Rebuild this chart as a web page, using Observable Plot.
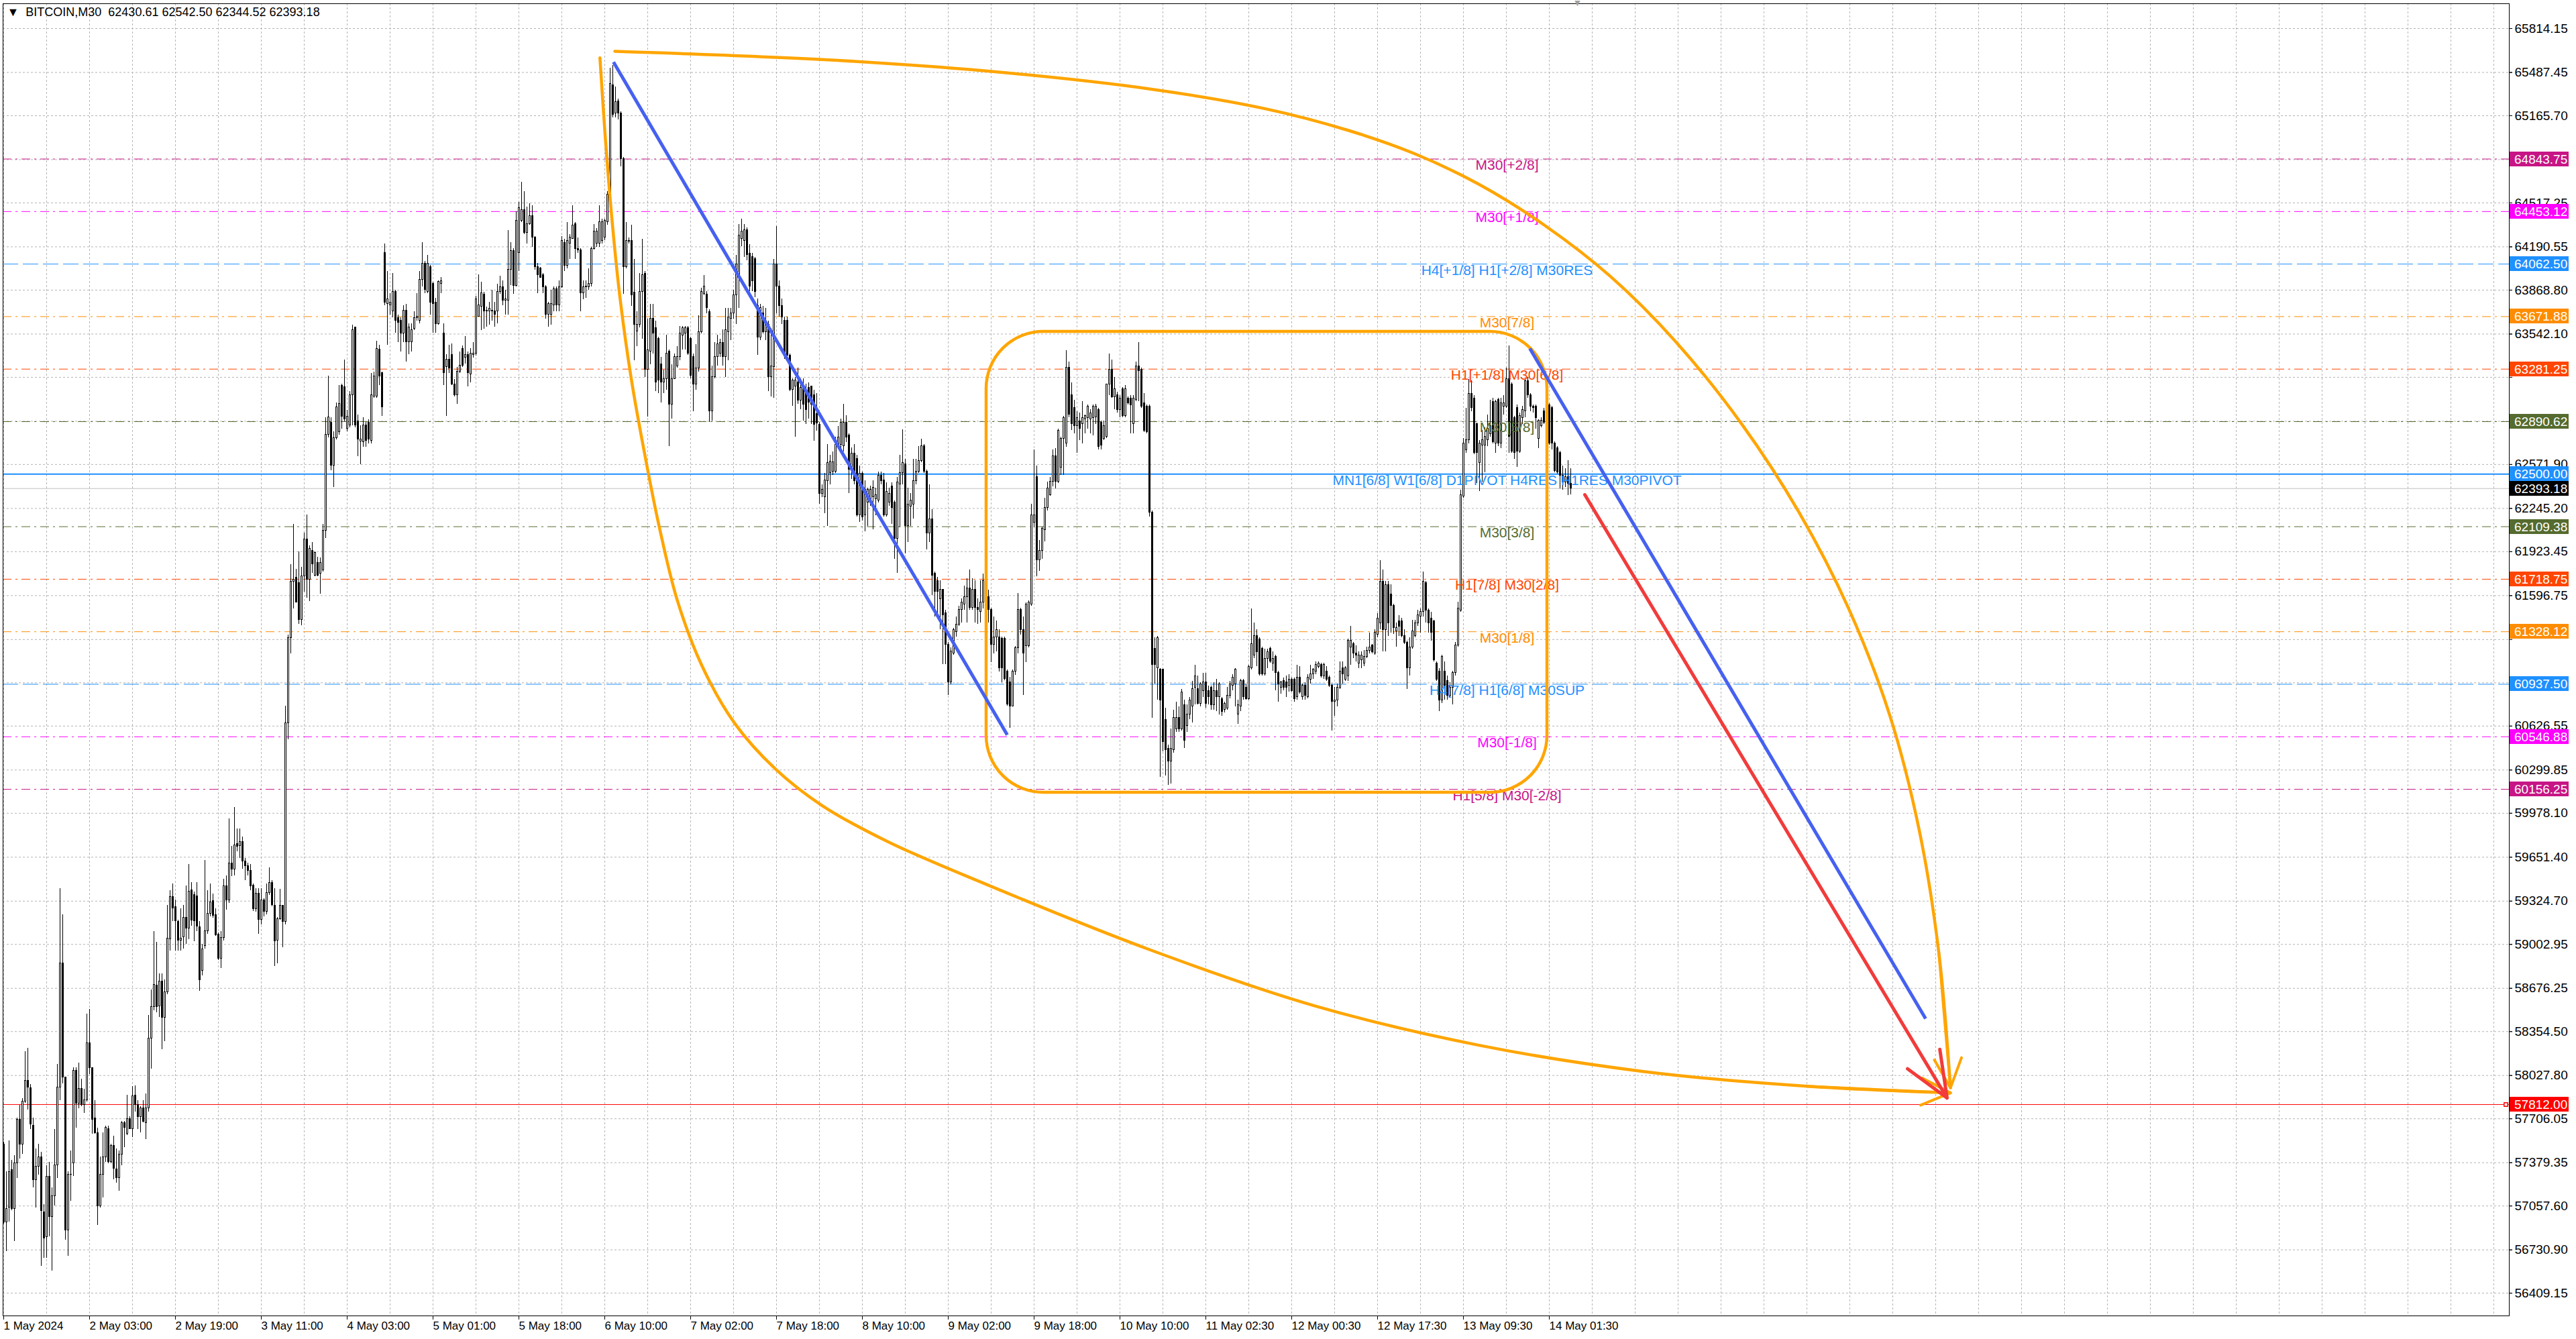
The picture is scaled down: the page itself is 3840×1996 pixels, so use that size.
<!DOCTYPE html>
<html>
<head>
<meta charset="utf-8">
<script src="https://cdn.jsdelivr.net/npm/d3@7"></script>
<script src="https://cdn.jsdelivr.net/npm/@observablehq/plot@0.6"></script>
<style>
  html, body { margin: 0; padding: 0; background: #ffffff; }
  #chart svg { display: block; }
</style>
</head>
<body>
<div id="chart"></div>
<script>
// ---------------- DATA ----------------
const symbolName = "BITCOIN,M30";
const lastOHLC = [62430.61, 62542.50, 62344.52, 62393.18];

// M30 candles [open, high, low, close], one per bar, left to right
const candles = [
[57517,57530,56925,56937],[56937,57312,56720,57034],[57046,57542,56937,57312],[57324,57397,57022,57034],[57034,57433,56792,57373],
[57373,57711,57264,57699],[57699,57808,57409,57517],[57517,57856,57445,57832],[57832,58207,57820,57989],[57989,58231,57771,57941],
[57936,57960,57626,57663],[57655,57711,57191,57252],[57252,57481,57046,57348],[57348,57517,57288,57421],[57421,57457,56611,57022],
[57010,57070,56671,56816],[56829,57360,56671,57276],[57276,57385,56829,56974],[56974,57191,56575,57131],[57131,57626,57058,57360],
[57360,58110,57264,57941],[57941,59416,57844,58860],[58860,59222,57965,58013],[58013,58013,56804,56877],[56877,57312,56683,57288],
[57288,57469,57094,57290],[57373,58086,57276,58062],[58062,58086,57638,57820],[57820,58122,57784,57929],[57929,58001,57796,57808],
[57808,57929,57747,57844],[57844,58485,57832,58267],[58267,58521,58038,58086],[58086,58086,57590,57699],[57711,57844,57590,57602],
[57602,57638,56913,57058],[57058,57421,57046,57288],[57288,57602,57119,57421],[57421,57651,57385,57638],[57631,57651,57373,57385],
[57385,57517,57373,57505],[57505,57578,57252,57336],[57331,57481,57227,57264],[57264,57469,57167,57438],[57438,57687,57360,57675],
[57675,57687,57493,57638],[57597,57880,57583,57704],[57704,57723,57626,57631],[57631,57946,57566,57875],[57880,57953,57759,57808],
[57808,57844,57626,57718],[57718,57796,57602,57784],[57784,57844,57675,57687],[57675,57892,57554,57784],[57784,58473,57759,58303],
[58303,58666,58074,58540],[58540,59101,58509,58702],[58695,59017,58497,58540],[58545,58787,58461,58727],[58727,58787,58219,58456],
[58456,58739,58279,58649],[58649,59295,58630,59048],[59041,59404,58956,59355],[59355,59452,59174,59271],[59283,59331,58956,59174],
[59169,59186,58956,59034],[59034,59271,58956,59048],[59058,59295,58968,59203],[59203,59440,59005,59121],[59121,59597,59041,59396],
[59404,59464,59138,59179],[59372,59392,59024,59174],[59362,59464,59101,59138],[59130,59174,58654,58739],[58806,59005,58768,58968],
[58992,59628,58968,59101],[59101,59404,59077,59229],[59229,59452,59210,59314],[59328,59379,59198,59217],[59222,59271,59065,59072],
[59077,59089,58884,58896],[58896,59101,58823,59053],[59053,59488,59029,59435],[59435,59512,59259,59331],[59331,59936,59307,59604],
[59604,59735,59508,59561],[59561,60020,59512,59742],[59749,59863,59694,59730],[59735,59863,59645,59766],[59766,59802,59561,59621],
[59621,59645,59476,59585],[59585,59609,59512,59549],[59549,59597,59404,59435],[59440,59452,59251,59266],[59266,59416,59246,59379],
[59379,59416,59077,59186],[59186,59416,59150,59331],[59331,59343,59210,59246],[59246,59452,59222,59387],[59387,59573,59367,59459],
[59459,59476,59283,59295],[59290,59416,58840,59029],[59034,59203,58860,59193],[59193,59411,59186,59290],[59290,59295,58980,59169],
[59169,60777,59150,60648],[60648,61304,60525,61281],[61281,61830,61166,61702],[61702,62128,61500,61716],[61730,61793,61546,61546],
[61693,61922,61382,61418],[61418,61807,61372,61739],[61739,62060,61624,62014],[62014,62197,61578,61716],[61716,61968,61555,61945],
[61931,61991,61762,61830],[61748,61922,61739,61913],[61839,61885,61739,61748],[61762,61876,61610,61839],[61784,62128,61775,62082],
[62082,62921,62023,62792],[62792,63228,62770,62921],[62884,62921,62527,62563],[62563,62815,62403,62770],[62770,63031,62756,62999],
[62815,63159,62792,63021],[63159,63168,62838,62930],[63150,63351,62893,62907],[62838,62976,62815,62930],[62861,63113,62847,63090],
[63090,63608,62861,63571],[63594,63594,62847,62861],[62893,62939,62632,62756],[62742,62861,62573,62760],[62737,62921,62701,62861],
[62861,62884,62701,62747],[62884,62907,62724,62756],[62747,63251,62724,63090],[63076,63260,63067,63228],[63076,63489,63067,63434],
[63425,63457,63159,63228],[63251,63260,62930,62999],[64144,64213,63755,63778],[63764,64007,63457,63800],[63755,63846,63686,63778],
[63709,63993,63663,63855],[63855,63869,63548,63640],[63663,63686,63480,63626],[63640,63663,63411,63548],[63548,63755,63480,63718],
[63718,63764,63334,63480],[63480,63617,63388,63594],[63480,63617,63411,63571],[63580,63709,63571,63663],[63663,63846,63640,63672],
[63640,64007,63617,63947],[63947,64222,63892,64066],[64066,64085,63846,63869],[63855,64130,63846,64066],[64039,64053,63686,63778],
[63915,63929,63548,63764],[63778,63810,63548,63617],[63617,63938,63608,63929],[63915,63961,63846,63938],[63548,63617,63159,63251],
[63296,63388,62930,63351],[63351,63457,63251,63287],[63388,63471,63159,63168],[63168,63205,63076,63090],[63090,63297,63021,63260],
[63260,63411,63251,63306],[63434,63452,63296,63306],[63365,63525,63320,63388],[63388,63411,63150,63251],[63242,63434,63182,63397],
[63388,63480,63365,63397],[63397,63823,63379,63800],[63672,63983,63672,63755],[63745,63929,63571,63846],[63837,63855,63580,63709],
[63709,63745,63594,63718],[63709,63778,63608,63732],[63709,63869,63640,63718],[63709,63778,63594,63686],[63709,63915,63617,63855],
[63855,63974,63837,63892],[63892,63938,63755,63791],[63791,63869,63686,63800],[63791,64313,63686,64020],[64020,64222,63901,64158],
[64158,64176,63837,63901],[63901,64451,63892,64387],[64144,64524,64007,64478],[64387,64671,64373,64464],[64464,64602,64281,64295],
[64295,64487,64213,64359],[64359,64510,64350,64419],[64419,64497,64190,64258],[64258,64267,64020,64039],[64039,64066,63846,63983],
[64029,64039,63961,63961],[63983,63993,63846,63892],[63892,63901,63654,63686],[63686,63778,63594,63764],[63686,63869,63608,63764],
[63755,63892,63709,63878],[63878,63892,63709,63755],[63755,63938,63709,63892],[63892,64267,63883,64236],[64222,64249,64007,64053],
[64053,64373,64029,64236],[64213,64281,64098,64258],[64249,64497,64249,64350],[64359,64373,64098,64176],[64176,64258,64144,64167],
[64167,64176,63709,63846],[63846,63938,63800,63892],[63892,63938,63810,63895],[63892,64029,63869,63915],[63915,64190,63892,64176],
[64176,64359,64167,64304],[64213,64327,64190,64304],[64213,64497,64190,64373],[64236,64396,64213,64373],[64258,64396,64236,64387],
[64373,64602,64350,64579],[64579,65518,64570,65404],[65395,65541,65152,65175],[65184,65381,65152,65266],[65275,65289,65138,65184],
[65184,65198,64785,64845],[64845,64854,63837,64039],[64039,64373,64029,64236],[64231,64258,64213,64236],[64236,64350,63749,63830],
[63850,64098,63343,63614],[63560,63709,63451,63614],[63614,63992,63587,63857],[63857,64249,63505,63979],[63992,64006,63222,63276],
[63276,63654,62924,63424],[63411,63762,63316,63654],[63654,63762,63397,63546],[63587,63641,63113,63181],[63505,63519,63100,63195],
[63316,63370,63032,63181],[63181,63276,63100,63208],[63208,63532,63127,63397],[63411,63424,62708,63019],[63019,63316,62911,63208],
[63208,63397,63208,63370],[63303,63451,63289,63370],[63370,63600,63343,63546],[63532,63600,63424,63587],[63546,63600,63424,63587],
[63587,63600,63384,63397],[63505,63519,63208,63230],[63370,63397,62965,63168],[63168,63465,63127,63289],[63289,63681,63262,63559],
[63559,63884,63546,63857],[63843,63979,63830,63897],[63835,63857,63695,63735],[63708,63722,62884,62970],[62970,63303,62897,63222],
[63222,63478,63208,63370],[63370,63532,63303,63465],[63397,63505,63370,63478],[63478,63573,63303,63370],[63370,63735,63222,63573],
[63559,63735,63343,63668],[63654,63735,63492,63695],[63695,63870,63654,63830],[63830,64128,63614,64060],[63965,64357,63735,64276],
[64249,64398,64195,64303],[64236,64357,64114,64317],[64317,64330,64087,64128],[64141,64209,63857,63897],[64114,64141,63857,63938],
[64101,64114,63816,63857],[63749,63803,63384,63519],[63519,63762,63492,63735],[63695,63749,63546,63559],[63559,63735,63492,63614],
[63614,63641,63113,63222],[63222,63586,63073,63303],[63295,64100,63067,64060],[64060,64344,63695,63897],[63897,63938,63668,63749],
[63749,63803,63614,63668],[63641,63668,63357,63397],[63641,63668,63370,63384],[63384,63397,63113,63127],[63127,63208,63005,63195],
[63154,63222,62775,63195],[63181,63289,63019,63046],[63046,63208,62978,63141],[63154,63208,62897,63019],[63113,63168,62870,62978],
[63141,63181,62911,63032],[63154,63154,62870,63019],[63086,63127,62748,62870],[62950,63100,62820,62880],[62870,62884,62275,62356],
[62356,62424,62329,62383],[62329,62505,62208,62456],[62451,62721,62113,62586],[62510,62640,62424,62592],[62518,62667,62491,62591],
[62518,62775,62505,62721],[62721,62857,62694,62775],[62721,62911,62681,62884],[62708,63019,62667,62884],[62884,62938,62735,62775],
[62789,62803,62356,62532],[62532,62694,62464,62654],[62654,62721,62424,62451],[62613,62640,62181,62194],[62194,62559,62140,62505],
[62505,62518,62154,62181],[62194,62451,62073,62383],[62289,62397,62113,62383],[62316,62410,62262,62383],[62329,62451,62086,62397],
[62316,62397,62194,62343],[62302,62518,62289,62491],[62491,62518,62424,62451],[62456,62505,62181,62194],[62194,62437,62181,62370],
[62289,62397,62262,62356],[62410,62437,62127,62248],[62289,62302,61870,62019],[62019,62478,61762,62437],[62424,62640,62100,62510],
[62510,62829,62424,62586],[62573,62613,61910,62113],[62113,62397,61992,62275],[62262,62356,62113,62302],[62275,62613,62167,62451],
[62451,62613,62424,62518],[62518,62708,62505,62600],[62600,62762,62586,62708],[62708,62721,62505,62518],[62518,62532,61937,62059],
[62059,62424,61992,62167],[62167,62235,61599,61748],[61762,61775,61437,61626],[61708,61735,61424,61626],[61572,61708,61342,61640],
[61640,61640,61086,61451],[61464,61491,61086,61234],[61234,61248,60856,60950],[60950,61207,60937,61180],[61166,61356,61153,61342],
[61329,61437,61288,61383],[61383,61518,61370,61491],[61491,61572,61396,61545],[61532,61667,61491,61586],[61586,61721,61396,61653],
[61653,61789,61491,61505],[61505,61721,61491,61640],[61640,61708,61396,61505],[61505,61572,61383,61491],[61478,61708,61396,61545],
[61545,61760,61500,61707],[61707,61775,61491,61586],[61586,61640,61396,61491],[61491,61505,61099,61234],[61234,61437,61166,61288],
[61288,61410,61180,61342],[61288,61342,61032,61059],[61275,61288,60950,61059],[61275,61288,60964,60977],[61032,61046,60775,60788],
[60950,60991,60612,60775],[60775,61046,60775,61032],[61032,61221,61005,61207],[61207,61613,61166,61491],[61491,61505,61302,61342],
[61342,61437,60856,61167],[61221,61545,61099,61532],[61221,61559,61207,61545],[61532,62275,61518,62194],[62140,62681,62100,62194],
[62480,62560,61740,61860],[61860,62010,61780,61929],[61929,62108,61869,62096],[62084,62322,62000,62251],[62251,62442,62227,62394],
[62346,62478,62335,62442],[62442,62681,62406,62633],[62633,62693,62394,62442],[62442,62836,62430,62824],[62549,62776,62490,62764],
[62764,62931,62490,62919],[62730,63420,62700,63290],[63290,63337,62919,62943],[63087,63182,62824,62872],[62991,63051,62800,62860],
[62860,62967,62657,62919],[62895,62955,62752,62836],[62872,63039,62728,62919],[62907,62943,62800,62931],[62919,63015,62836,63003],
[62907,62979,62800,62955],[62919,63015,62788,63003],[62924,63020,62872,63003],[62979,62991,62681,62704],[62883,62895,62681,62716],
[62764,62895,62752,62860],[62776,63170,62764,63170],[63170,63397,63087,63277],[63277,63349,63063,63075],[63075,63218,62979,63134],
[63087,63110,62955,62979],[62979,63087,62919,63063],[63134,63146,62919,62931],[62931,63158,62919,63134],[63063,63075,63015,63027],
[63063,63087,62800,63015],[62872,63087,62800,63063],[63051,63337,63039,63301],[63301,63480,63039,63265],[63277,63289,62991,63003],
[63027,63099,62812,62824],[63003,63015,62800,62812],[63003,63015,62180,62215],[62215,62227,60687,61081],[61201,61284,60938,61081],
[61057,61296,60818,61284],[61046,61057,60246,60818],[61046,61046,60437,60508],[60675,60759,60258,60449],[60461,60485,60186,60365],
[60365,60604,60198,60461],[60449,60747,60425,60687],[60604,60806,60580,60687],[60687,60771,60580,60604],[60604,60902,60592,60878],
[60783,60818,60461,60520],[60628,60783,60580,60711],[60711,60842,60675,60819],[60771,60962,60651,60902],[60914,61081,60783,60998],
[60902,60998,60783,60795],[60795,60950,60771,60938],[60890,61022,60842,60950],[60950,61022,60759,60795],[60890,60926,60783,60842],
[60914,60926,60747,60783],[60783,60950,60747,60890],[60890,60974,60735,60842],[60842,60950,60711,60938],[60830,60842,60699,60735],
[60747,60806,60723,60795],[60759,60914,60747,60854],[60854,60962,60830,60938],[60926,61010,60890,60986],[60938,61057,60771,61046],
[60711,60818,60639,60783],[60771,60974,60735,60962],[60962,60974,60818,60842],[60914,60938,60818,60830],[60830,61081,60818,61069],
[61057,61499,61045,61236],[61153,61392,61129,61296],[61296,61344,61069,61177],[61272,61284,60998,61010],[61201,61213,60998,61010],
[61010,61201,60998,61129],[61129,61201,61057,61177],[61201,61213,61093,61105],[61093,61177,61033,61129],[61141,61153,60890,61022],
[61022,61033,60806,60938],[60914,60962,60866,60950],[60962,60986,60890,60914],[60950,60998,60842,60914],[60926,61010,60878,60974],
[60974,60986,60878,60890],[60974,60986,60806,60830],[60842,61081,60818,60986],[60986,61069,60866,60878],[60842,60938,60818,60926],
[60926,60950,60818,60854],[60842,61010,60830,60986],[60974,61081,60938,61010],[61010,61057,60974,61046],[61033,61105,61010,61081],
[61069,61105,61057,61093],[61081,61093,60986,60998],[60998,61093,60974,61081],[61033,61069,60962,60974],[60986,60998,60914,60926],
[60926,60938,60592,60806],[60806,60914,60699,60818],[60818,60938,60771,60914],[60914,61105,60902,61033],[61057,61105,60938,61010],
[60974,61069,60962,61057],[60998,61272,60962,61261],[61213,61368,61081,61261],[61236,61248,61129,61165],[61165,61225,61105,61153],
[61093,61177,61057,61153],[61117,61177,61057,61153],[61093,61189,61069,61141],[61141,61213,61129,61189],[61189,61320,61165,61213],
[61225,61236,61165,61177],[61165,61344,61153,61320],[61308,61463,61284,61428],[61392,61857,61344,61702],[61702,61786,61177,61344],
[61344,61702,61177,61678],[61678,61702,61296,61392],[61606,61678,61320,61523],[61523,61535,61308,61356],[61332,61392,61212,61356],
[61404,61451,61296,61368],[61404,61428,61284,61296],[61296,61344,61236,61248],[61248,61261,60902,61057],[61057,61284,60998,61213],
[61213,61416,61201,61332],[61296,61416,61284,61392],[61392,61487,61368,61451],[61440,61499,61320,61475],[61475,61774,61440,61702],
[61690,61702,61392,61487],[61487,61499,61320,61392],[61428,61475,61261,61320],[61404,61416,61105,61117],[61093,61105,60962,60974],
[61033,61057,60735,60818],[60818,61153,60794,61141],[61033,61105,60818,60914],[60962,60998,60818,60854],[60854,60950,60842,60914],
[60914,61033,60783,61022],[61022,61248,60998,61225],[61225,61547,61213,61499],[61487,62382,61475,62346],[62334,62764,62322,62728],
[62681,62991,62657,62752],[62752,63206,62728,63099],[63099,63194,62967,62991],[63063,63087,62645,62657],[62871,62883,62430,62657],
[62585,62752,62370,62728],[62716,62824,62442,62752],[62716,62848,62513,62776],[62752,62943,62704,62836],[62800,63051,62776,62860],
[63039,63063,62728,62740],[62728,63051,62657,63039],[63051,63063,62704,62728],[62728,63063,62692,63027],[63003,63087,62943,63027],
[63003,63289,62991,63206],[63206,63456,62657,62776],[63170,63182,62657,62669],[62919,62931,62609,62657],[62991,63015,62549,62669],
[62669,62955,62657,62931],[62919,63003,62871,62979],[62967,63206,62919,63194],[63194,63218,63063,63087],[63087,63099,62967,63003],
[63003,63015,62955,62991],[63003,63015,62836,62919],[62764,62907,62692,62896],[62860,62919,62848,62896],[62967,62991,62872,62883],
[62883,63015,62836,62955],[63015,63027,62716,62728],[62991,63003,62681,62728],[62728,62740,62513,62525],[62692,62704,62501,62513],
[62657,62669,62394,62490],[62490,62560,62380,62440],[62440,62540,62400,62480],[62480,62600,62340,62430],[62430.61,62542.50,62344.52,62393.18]
];

// time axis: bar index of each label, and its text
const xTickBars = [0,32,64,96,128,160,192,224,256,288,320,352,384,416,448,480,512,544,576];
const xTickLabels = ["1 May 2024","2 May 03:00","2 May 19:00","3 May 11:00","4 May 03:00","5 May 01:00","5 May 18:00",
  "6 May 10:00","7 May 02:00","7 May 18:00","8 May 10:00","9 May 02:00","9 May 18:00","10 May 10:00",
  "11 May 02:30","12 May 00:30","12 May 17:30","13 May 09:30","14 May 01:30"];

// price axis tick values (grid), and the ones whose label is hidden under a price tag
const yTickValues = [65814.15,65487.45,65165.70,64838.95,64517.25,64190.55,63868.80,63542.10,63220.35,62893.65,
  62571.90,62245.20,61923.45,61596.75,61270.05,60948.30,60626.55,60299.85,59978.10,59651.40,59324.70,
  59002.95,58676.25,58354.50,58027.80,57706.05,57379.35,57057.60,56730.90,56409.15];
const yTicksUnderTags = [64838.95,63220.35,62893.65,61270.05,60948.30];

// Murrey math levels
const levelPrices = [64843.75,64453.12,64062.50,63671.88,63281.25,62890.62,62500.00,62109.38,61718.75,61328.12,60937.50,60546.88,60156.25];
const levelNames = ["M30[+2/8]","M30[+1/8]","H4[+1/8] H1[+2/8] M30RES","M30[7/8]","H1[+1/8] M30[6/8]","M30[5/8]",
  "MN1[6/8] W1[6/8] D1PIVOT H4RES H1RES M30PIVOT","M30[3/8]","H1[7/8] M30[2/8]","M30[1/8]","H4[7/8] H1[6/8] M30SUP",
  "M30[-1/8]","H1[5/8] M30[-2/8]"];
const levelKinds = ["+2/8","+1/8","res","7/8","6/8","5/8","pivot","3/8","2/8","1/8","sup","-1/8","-2/8"];
const labelBar = 560.25;     // bar where level names are centred
const currentPrice = 62393.18;
const targetPrice = 57812.00;
const shiftBar = 586.5;

// drawn objects: [bar, price]
const blueLine1 = [[227.25, 65564.7], [374, 60560.8]];
const blueLine2 = [[568.75, 63434.4], [716.25, 58450.6]];
const redArrow  = [[589.25, 62346.8], [724.25, 57860]];
const upperArc = [[227.75,65644.5],[304.9,65583.7],[366.1,65498.4],[427.3,65364.1],[470.2,65217.5],[500.8,65058.3],
  [525.3,64887.3],[549.8,64655.2],[574.3,64350],[598.75,63971.2],[623.25,63482.3],[647.75,62871.6],[669.2,62211.6],
  [687.5,61503],[702.85,60708.9],[713.85,59853.8],[721.2,58937.3],[725.5,57935.5]];
const lowerArc = [[222.2,65596.1],[224.05,65046.3],[226.5,64435.2],[229.6,63824.6],[233.85,63213.4],[238.75,62663.6],
  [244.25,62113.8],[251,61564],[260.2,61075.6],[272.4,60647.6],[287.7,60305.8],[304.9,60036.9],[329.4,59768],
  [366.1,59450.2],[427.3,58961.8],[488.55,58546.2],[549.8,58252.9],[611,58057.8],[672.2,57947.5],[725.5,57898.6]];
const rangeBoxBars = [366.25, 575.25];
const rangeBoxPrices = [60131.6, 63559];

// ---------------- STYLES ----------------
const FONT = "'Liberation Sans', Arial, sans-serif";
const DASHDOT = "13,6,3,6";
const levelStyle = {
  "+2/8": {color: "#C71585", dash: DASHDOT, w: 1},
  "+1/8": {color: "#FF00FF", dash: DASHDOT, w: 1},
  "res":  {color: "#1E90FF", dash: "23,7", w: 1},
  "7/8":  {color: "#FF8C00", dash: DASHDOT, w: 1},
  "6/8":  {color: "#FF4500", dash: DASHDOT, w: 1},
  "5/8":  {color: "#556B2F", dash: DASHDOT, w: 1},
  "pivot":{color: "#1E90FF", dash: null, w: 2},
  "3/8":  {color: "#556B2F", dash: DASHDOT, w: 1},
  "2/8":  {color: "#FF4500", dash: DASHDOT, w: 1},
  "1/8":  {color: "#FF8C00", dash: DASHDOT, w: 1},
  "sup":  {color: "#1E90FF", dash: "23,7", w: 1},
  "-1/8": {color: "#FF00FF", dash: DASHDOT, w: 1},
  "-2/8": {color: "#C71585", dash: DASHDOT, w: 1}
};
const ORANGE = "#FFA500", BLUE = "#4661F0", RED = "#F23B3B";

// ---------------- BUILD ----------------
const bars = candles.map((c, i) => ({i, o: c[0], h: c[1], l: c[2], c: c[3]}));
const levels = levelPrices.map((p, k) => ({p, name: levelNames[k], kind: levelKinds[k]}));
const tickLabel = new Map(xTickBars.map((b, k) => [b, xTickLabels[k]]));
const gridBars = d3.range(0, 934, 16);
const yLabelTicks = yTickValues.filter(v => !yTicksUnderTags.includes(v));

const W = 3840, H = 1996;
const mL = 4, mR = 100, mT = 5, mB = 35;
const xDomain = [-0.25, 933.75];
const yDomain = [56240.3, 65998.8];

// right-hand price tags (drawn through the y scale)
const tagList = [
  ...levels.filter(d => d.kind !== "pivot").map(d => ({p: d.p, color: levelStyle[d.kind].color})),
  {p: currentPrice, color: "#000000"},
  {p: 62500.00, color: levelStyle["pivot"].color},
  {p: targetPrice, color: "#FF0000"}
];
function tagMark(index, scales, values, dims) {
  const g = d3.create("svg:g").attr("font-family", FONT).attr("font-size", 19).attr("text-anchor", "start");
  const x0 = dims.width - dims.marginRight;
  for (const t of tagList) {
    const yy = Math.round(scales.y(t.p));
    g.append("rect").attr("x", x0 + 1).attr("y", yy - 11).attr("width", 88).attr("height", 22).attr("fill", t.color);
    g.append("text").attr("x", x0 + 8).attr("y", yy).attr("dy", "0.36em").attr("text-anchor", "start")
      .attr("fill", "white").text(t.p.toFixed(2));
  }
  return g.node();
}

const levelMarks = levels.map(d => Plot.ruleY([d.p], {
  stroke: levelStyle[d.kind].color,
  strokeWidth: levelStyle[d.kind].w,
  strokeDasharray: levelStyle[d.kind].dash || undefined
}));
const seg = {x1: d => d[0][0], y1: d => d[0][1], x2: d => d[1][0], y2: d => d[1][1]};

const chart = Plot.plot({
  width: W, height: H,
  marginLeft: mL, marginRight: mR, marginTop: mT, marginBottom: mB,
  style: {fontFamily: FONT, fontSize: "19px", background: "white", color: "black", overflow: "visible"},
  x: {type: "linear", domain: xDomain, axis: null},
  y: {type: "linear", domain: yDomain, axis: null},
  marks: [
    Plot.gridY(yTickValues, {stroke: "#b4b4b4", strokeOpacity: 1, strokeDasharray: "3,3"}),
    Plot.gridX(gridBars, {stroke: "#b4b4b4", strokeOpacity: 1, strokeDasharray: "3,3"}),
    ...levelMarks,
    Plot.ruleY([currentPrice], {stroke: "#c0c0c0", strokeWidth: 1}),
    Plot.ruleY([targetPrice], {stroke: "#FF0000", strokeWidth: 1}),
    Plot.dot([targetPrice], {y: d => d, frameAnchor: "right", dx: -5, symbol: "square", r: 3, stroke: "#FF0000", fill: "white"}),
    // candles
    Plot.ruleX(bars, {x: "i", y1: "l", y2: "h", stroke: "black", strokeWidth: 1, shapeRendering: "crispEdges"}),
    Plot.rect(bars, {x1: d => d.i - 0.25, x2: d => d.i + 0.25, y1: "o", y2: "c",
      fill: d => d.c >= d.o ? "white" : "black", stroke: "black", strokeWidth: 1, shapeRendering: "crispEdges"}),
    // level names
    Plot.text(levels, {x: labelBar, y: "p", text: "name", fill: d => levelStyle[d.kind].color,
      lineAnchor: "top", dy: 1, fontSize: 21, fontFamily: FONT}),
    // drawn objects
    Plot.rect([0], {x1: rangeBoxBars[0], x2: rangeBoxBars[1], y1: rangeBoxPrices[0], y2: rangeBoxPrices[1],
      fill: "none", stroke: ORANGE, strokeWidth: 4.5, rx: 85}),
    Plot.line(upperArc, {x: d => d[0], y: d => d[1], stroke: ORANGE, strokeWidth: 4.5, curve: "catmull-rom"}),
    Plot.line(lowerArc, {x: d => d[0], y: d => d[1], stroke: ORANGE, strokeWidth: 4.5, curve: "catmull-rom"}),
    Plot.arrow([upperArc.slice(-2)], {...seg, stroke: ORANGE, strokeWidth: 4, headLength: 18, headAngle: 50}),
    Plot.arrow([lowerArc.slice(-2)], {...seg, stroke: ORANGE, strokeWidth: 4, headLength: 18, headAngle: 50}),
    Plot.link([blueLine1, blueLine2], {...seg, stroke: BLUE, strokeWidth: 5}),
    Plot.arrow([redArrow], {...seg, stroke: RED, strokeWidth: 5, headLength: 22, headAngle: 45}),
    // frame and axes
    Plot.frame({stroke: "black", strokeWidth: 1}),
    Plot.axisY(yTickValues, {anchor: "right", tickSize: 4, tickPadding: 0, text: null, label: null}),
    Plot.axisY(yLabelTicks, {anchor: "right", tickSize: 4, tickPadding: 4, textAnchor: "start",
      tickFormat: d => d.toFixed(2), fontSize: 19, label: null}),
    Plot.axisX(xTickBars, {anchor: "bottom", tickSize: 6, tickPadding: 2, textAnchor: "start",
      tickFormat: d => tickLabel.get(d), fontSize: 17, label: null}),
    tagMark,
    // title
    Plot.text([`\u25BC\u00A0 ${symbolName}\u00A0 ${lastOHLC.map(v => v.toFixed(2)).join(" ")}`], {
      frameAnchor: "top-left", dx: 6, dy: 6, lineAnchor: "top", textAnchor: "start", fontSize: 18, fill: "black"}),
    Plot.text(["\u25BC"], {x: shiftBar, frameAnchor: "top", dy: -6, lineAnchor: "top", fontSize: 14, fill: "#a0a0a0"})
  ]
});
document.getElementById("chart").appendChild(chart);
</script>
</body>
</html>
